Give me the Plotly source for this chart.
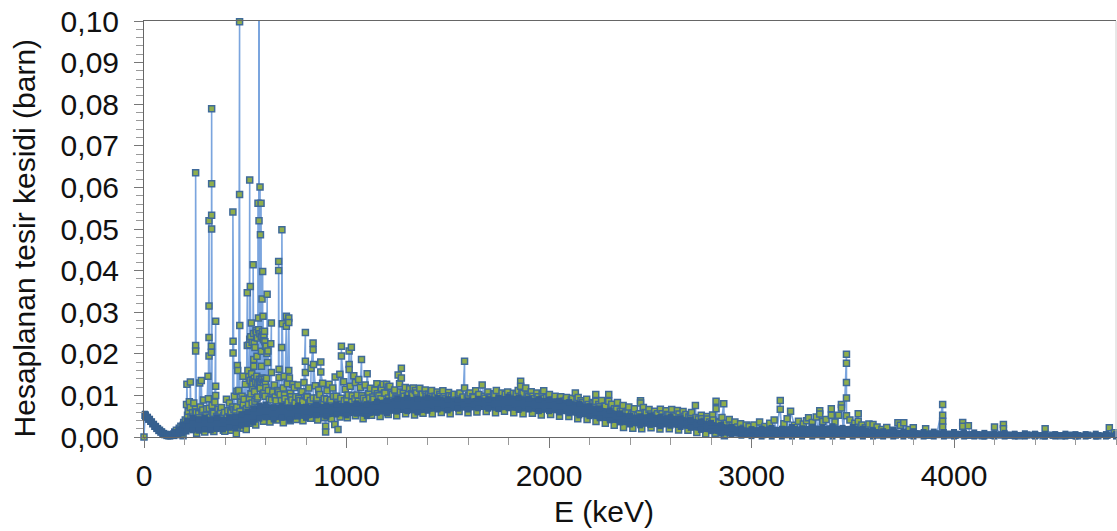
import numpy as np
import plotly.graph_objects as go

# Isolated peaks and stems (keV, barn)
peak_E = [0, 5, 193, 212, 229, 255, 255, 255, 255, 275, 283, 316, 321, 321, 321, 321,
          333, 333, 334, 334, 334, 334, 354, 354, 354, 399, 407, 439, 440, 440, 456, 459,
          461, 463, 472, 472, 473, 489, 505, 510, 510, 513, 522, 522, 525, 530, 535, 539,
          542, 542, 544, 555, 558, 563, 565, 568, 573, 575, 578, 580, 580, 583, 583, 586,
          588, 588, 590, 595, 600, 608, 610, 612, 626, 629, 629, 665, 665, 667, 667, 680,
          681, 683, 692, 703, 703, 715, 715, 715, 718, 735, 797, 797, 797, 825, 835, 835,
          837, 873, 873, 897, 897, 942, 944, 958, 967, 975, 975, 1013, 1013, 1013, 1024,
          1036, 1060, 1074, 1102, 1181, 1198, 1206, 1255, 1271, 1271, 1329]
peak_S = [0.0, 0.0052, 0.0003, 0.0127, 0.0132, 0.0635, 0.022, 0.0207, 0.006, 0.013, 0.0136,
          0.0146, 0.052, 0.0315, 0.0239, 0.0195, 0.0218, 0.0204, 0.0789, 0.0609, 0.0533, 0.05,
          0.0278, 0.0122, 0.01, 0.0014, 0.0091, 0.0541, 0.023, 0.0202, 0.0008, 0.011, 0.0172,
          0.016, 0.0998, 0.0583, 0.0268, 0.0146, 0.0018, 0.0347, 0.022, 0.016, 0.0618, 0.0235,
          0.0362, 0.0274, 0.0132, 0.0414, 0.0186, 0.017, 0.0225, 0.0251, 0.0194, 0.0562,
          0.0286, 0.052, 0.0601, 0.0486, 0.0562, 0.0206, 0.017, 0.0332, 0.0138, 0.0398, 0.029,
          0.024, 0.0234, 0.0254, 0.0218, 0.0343, 0.0179, 0.0207, 0.0224, 0.0274, 0.0155, 0.0422,
          0.04, 0.0163, 0.0143, 0.0215, 0.0498, 0.0272, 0.0146, 0.029, 0.0266, 0.0286, 0.0275,
          0.016, 0.0142, 0.0126, 0.0251, 0.0182, 0.0155, 0.0165, 0.0226, 0.021, 0.0174, 0.018,
          0.0156, 0.0026, 0.0012, 0.003, 0.0144, 0.0018, 0.0151, 0.0218, 0.0195, 0.0207, 0.0174,
          0.0162, 0.0216, 0.0147, 0.0138, 0.0186, 0.0152, 0.0127, 0.0127, 0.012, 0.0149, 0.0165,
          0.0142, 0.0118]
far_E = [1583, 1583, 1670, 1860, 1860, 1885, 1974, 2130, 2231, 2231, 2295, 2295, 2452, 2452,
         2723, 2825, 2825, 2863, 3142, 3142, 3193, 3282, 3337, 3337, 3394, 3394, 3444, 3444,
         3469, 3469, 3469, 3469, 3469, 3527, 3527, 3600, 3723, 3752, 3799, 3860, 3944, 3944,
         3944, 3944, 4043, 4043, 4071, 4200, 4244, 4244, 4450, 4767, 4792]
far_S = [0.0182, 0.0118, 0.0125, 0.0134, 0.0122, 0.0118, 0.0111, 0.0106, 0.0102, 0.0086,
         0.0102, 0.0086, 0.0087, 0.0082, 0.0076, 0.0086, 0.0068, 0.008, 0.0088, 0.0067, 0.0062,
         0.0046, 0.0063, 0.0055, 0.0068, 0.0052, 0.0078, 0.007, 0.0199, 0.0177, 0.0131, 0.0094,
         0.0051, 0.0056, 0.0038, 0.003, 0.0034, 0.0034, 0.0022, 0.002, 0.0078, 0.0052, 0.0038,
         0.0024, 0.0035, 0.0026, 0.0027, 0.0024, 0.003, 0.002, 0.002, 0.0022, 0.001]

# Crowded points around the band, estimated by eye
rim_low_E = [136, 146, 152, 160, 168, 174, 182, 188, 196, 204, 210, 218, 224, 232, 240, 246,
             254, 262, 270, 278, 286, 294, 302, 310, 318, 326, 336, 344, 350, 358, 366, 374,
             382, 390, 398, 406, 414, 422, 430, 438, 446, 452, 468, 478, 484, 494, 500, 516,
             528, 536, 548, 552, 562, 570, 592, 602, 618, 636, 644, 652, 660, 672, 688, 696,
             708, 722, 730, 742, 750, 760, 770, 780, 790, 806, 814, 822, 846, 854, 862, 882,
             890, 904, 914, 922, 932, 950, 986, 994, 1002, 1018, 1028, 1044, 1052, 1068, 1084,
             1092, 1110, 1118, 1130, 1140, 1150, 1160, 1172, 1190, 1214, 1226, 1238, 1248, 1262,
             1280, 1290, 1300, 1312, 1322, 1340, 1350, 1362, 1374, 1388, 1396]
rim_low_S = [0.0004, 0.0007, 0.0012, 0.0016, 0.0009, 0.0021, 0.0026, 0.0024, 0.0035, 0.0041,
             0.0078, 0.0062, 0.0085, 0.0048, 0.0058, 0.0082, 0.0067, 0.0045, 0.0056, 0.0072,
             0.0061, 0.0089, 0.0052, 0.0068, 0.0092, 0.0047, 0.0076, 0.0057, 0.0084, 0.0049,
             0.0066, 0.0054, 0.0071, 0.0046, 0.0059, 0.0043, 0.0063, 0.0082, 0.0061, 0.0072,
             0.0098, 0.0065, 0.0112, 0.0085, 0.0098, 0.0091, 0.0127, 0.0078, 0.0104, 0.0118,
             0.0086, 0.0132, 0.0096, 0.0124, 0.0106, 0.0119, 0.0091, 0.0108, 0.0125, 0.0087,
             0.0112, 0.0102, 0.0118, 0.0092, 0.0128, 0.0105, 0.0089, 0.0119, 0.0097, 0.0125,
             0.0088, 0.0109, 0.0131, 0.0096, 0.0118, 0.0088, 0.0123, 0.0094, 0.0113, 0.0129,
             0.0092, 0.0111, 0.0127, 0.0089, 0.0118, 0.0098, 0.0133, 0.0115, 0.0092, 0.0122,
             0.0099, 0.0131, 0.0101, 0.0119, 0.0093, 0.0125, 0.0104, 0.0117, 0.0096, 0.0113,
             0.0128, 0.0099, 0.0117, 0.0106, 0.0122, 0.0097, 0.0113, 0.0093, 0.0128, 0.0105,
             0.0119, 0.0099, 0.0116, 0.0104, 0.0112, 0.0094, 0.0117, 0.0103, 0.0113, 0.0098]
rim_mid_E = [1406, 1420, 1434, 1448, 1462, 1476, 1490, 1504, 1518, 1532, 1546, 1560, 1574, 1596,
             1610, 1624, 1638, 1652, 1684, 1698, 1712, 1726, 1740, 1754, 1768, 1782, 1796, 1810,
             1824, 1838, 1848, 1872, 1898, 1912, 1926, 1940, 1954, 1966, 1988, 2002, 2016, 2030,
             2044, 2058, 2072, 2086, 2100, 2116, 2144, 2158, 2172, 2186, 2200, 2214, 2246, 2260,
             2274, 2310, 2324, 2338, 2352, 2366, 2380, 2394, 2408, 2422, 2436, 2466, 2480, 2494,
             2508, 2522, 2536, 2550, 2564, 2578, 2592, 2606, 2620, 2634, 2648, 2662, 2676, 2690,
             2704, 2738, 2752, 2766, 2780, 2794, 2808, 2840, 2854, 2876, 2890, 2904, 2918, 2932,
             2946, 2960, 2974, 2988]
rim_mid_S = [0.0103, 0.0112, 0.0094, 0.0108, 0.0098, 0.0111, 0.0092, 0.0107, 0.0096, 0.0103,
             0.0088, 0.0106, 0.0094, 0.0092, 0.0106, 0.0097, 0.0111, 0.0099, 0.0093, 0.0108,
             0.0095, 0.0104, 0.0112, 0.0097, 0.0106, 0.0093, 0.0108, 0.0098, 0.0105, 0.0094,
             0.0112, 0.0105, 0.0097, 0.0109, 0.0092, 0.0106, 0.0088, 0.0103, 0.0095, 0.0102,
             0.0089, 0.0098, 0.0084, 0.0097, 0.0086, 0.0095, 0.0081, 0.0093, 0.0095, 0.0087,
             0.0075, 0.0091, 0.0072, 0.0083, 0.0078, 0.0088, 0.0074, 0.0079, 0.0068, 0.0083,
             0.0062, 0.0076, 0.0058, 0.0072, 0.0055, 0.0068, 0.0052, 0.0071, 0.0058, 0.0066,
             0.0049, 0.0062, 0.0056, 0.0067, 0.0048, 0.0063, 0.0053, 0.0066, 0.0051, 0.0064,
             0.0046, 0.0061, 0.0054, 0.0048, 0.0059, 0.0043, 0.0052, 0.0038, 0.0049, 0.0036,
             0.0053, 0.0034, 0.0047, 0.0033, 0.0042, 0.0027, 0.0036, 0.0024, 0.0032, 0.0021,
             0.0029, 0.0025]
rim_high_E = [3012, 3040, 3066, 3090, 3112, 3160, 3176, 3212, 3232, 3256, 3272, 3300, 3320, 3352,
              3368, 3412, 3430, 3486, 3510, 3545, 3562, 3580, 3620, 3644, 3668, 3698, 3735, 3778]
rim_high_S = [0.0029, 0.0036, 0.0025, 0.0033, 0.0041, 0.0032, 0.0044, 0.0028, 0.0038, 0.0031,
              0.0039, 0.0035, 0.0048, 0.0037, 0.0042, 0.0036, 0.0052, 0.0041, 0.0033, 0.0029,
              0.0022, 0.0031, 0.0024, 0.0018, 0.0023, 0.0016, 0.0028, 0.0018]

# Second cloud of points just above the band
cloud_E = [215, 228, 244, 258, 272, 290, 306, 322, 340, 362, 378, 394, 412, 428, 444, 458, 474, 490,
           506, 520, 534, 546, 558, 574, 586, 598, 614, 630, 648, 664, 678, 694, 712, 726, 746, 764,
           784, 802, 818, 836, 852, 868, 886, 902, 918, 936, 954, 972, 990, 1008, 1026, 1042, 1058,
           1076, 1096, 1114, 1134, 1152, 1170, 1188, 1208, 1226, 1244, 1266, 1284, 1306, 1326, 1346,
           1368, 1392, 1414, 1438, 1460, 1482, 1508, 1530, 1552, 1576, 1602, 1628, 1654, 1680, 1706,
           1732, 1758, 1784, 1812, 1838, 1866, 1892, 1920, 1946, 1974, 2000, 2028, 2056, 2082, 2110,
           2138, 2166, 2194, 2222, 2250, 2278, 2306, 2334, 2362, 2390, 2418, 2446, 2474, 2502, 2530,
           2558, 2586, 2614, 2642, 2670, 2698, 2726, 2754, 2782, 2810, 2838, 2866, 2894]
cloud_S = [0.0052, 0.0071, 0.0048, 0.0059, 0.0046, 0.0065, 0.0051, 0.0069, 0.0058, 0.0047, 0.0062,
           0.0051, 0.0046, 0.0058, 0.0066, 0.0072, 0.0061, 0.0079, 0.0068, 0.0094, 0.0082, 0.0109,
           0.0092, 0.0117, 0.0103, 0.0098, 0.0112, 0.0089, 0.0096, 0.0108, 0.0087, 0.0101, 0.0084,
           0.0097, 0.0082, 0.0093, 0.0085, 0.0098, 0.0081, 0.0094, 0.0086, 0.0102, 0.0083, 0.0091,
           0.0084, 0.0098, 0.0082, 0.0093, 0.0087, 0.0101, 0.0084, 0.0092, 0.0086, 0.0099, 0.0088,
           0.0094, 0.0091, 0.0104, 0.0092, 0.0106, 0.0094, 0.0102, 0.0096, 0.0108, 0.0098, 0.0104,
           0.0101, 0.0106, 0.0099, 0.0103, 0.0101, 0.0098, 0.0103, 0.0097, 0.0099, 0.0095, 0.0101,
           0.0096, 0.0099, 0.0095, 0.0102, 0.0098, 0.0096, 0.0102, 0.0097, 0.0103, 0.0099, 0.0104,
           0.0106, 0.0101, 0.0098, 0.0097, 0.0093, 0.0096, 0.0091, 0.0093, 0.0088, 0.0089, 0.0091,
           0.0083, 0.0078, 0.0081, 0.0073, 0.0074, 0.0069, 0.0067, 0.0064, 0.0062, 0.0058, 0.0056,
           0.0059, 0.0055, 0.0052, 0.0056, 0.0054, 0.0052, 0.0055, 0.005, 0.0052, 0.0047, 0.0044,
           0.0043, 0.0041, 0.0037, 0.0031, 0.0029]

# Points just below the band
under_E = [260, 300, 345, 392, 430, 462, 490, 520, 552, 590, 622, 655, 688, 722, 752, 785, 822, 858,
           892, 926, 968, 1004, 1044, 1082, 1124, 1166, 1206, 1248, 1292, 1336, 1378, 1424, 1468, 1512,
           1556, 1600, 1644, 1690, 1736, 1780, 1826, 1872, 1918, 1962, 2008, 2052, 2098, 2142, 2188,
           2232, 2278, 2322, 2368, 2414, 2458, 2504, 2548, 2594, 2640, 2686, 2730, 2774, 2820, 2866]
under_S = [0.0009, 0.0012, 0.0013, 0.0016, 0.0016, 0.0024, 0.0021, 0.0033, 0.0029, 0.0038, 0.0036,
           0.0041, 0.0034, 0.0039, 0.0042, 0.0039, 0.0045, 0.0041, 0.0046, 0.0044, 0.0048, 0.0046,
           0.0051, 0.0044, 0.0052, 0.0049, 0.0054, 0.0051, 0.0056, 0.0053, 0.0057, 0.0056, 0.0059,
           0.0056, 0.0061, 0.0058, 0.006, 0.0061, 0.0058, 0.0062, 0.0058, 0.0056, 0.0057, 0.0053,
           0.0054, 0.005, 0.0049, 0.0044, 0.0042, 0.0037, 0.0033, 0.0028, 0.0023, 0.0021, 0.002,
           0.0022, 0.0019, 0.002, 0.0017, 0.0016, 0.0011, 0.0007, 0.0009, 0.0003]

# Crowded zone of the tall peaks near 520 to 620 keV
blob_E = [518, 520, 524, 527, 532, 534, 538, 541, 545, 548, 551, 553, 557, 560, 562, 566, 570, 572,
          576, 579, 582, 585, 589, 592, 594, 597, 599, 603, 605, 607]
blob_S = [0.0145, 0.0222, 0.0136, 0.0241, 0.0152, 0.0228, 0.0128, 0.0249, 0.0141, 0.0215, 0.0132,
          0.0256, 0.0146, 0.0238, 0.0128, 0.0258, 0.0139, 0.0248, 0.0134, 0.0242, 0.0142, 0.0253,
          0.0131, 0.0246, 0.0138, 0.0229, 0.0132, 0.0218, 0.0141, 0.0201]

# Low points hidden in the far part of the band
base_E = [3025, 3055, 3080, 3125, 3150, 3185, 3220, 3245, 3290, 3330, 3380, 3420, 3455, 3500, 3535,
          3590, 3632, 3680, 3710, 3765, 3790, 3830, 3870, 3915, 3975, 4005, 4030, 4080, 4110, 4140,
          4170, 4195, 4235, 4280, 4320, 4360, 4400, 4440, 4490, 4530, 4570, 4610, 4660, 4710, 4755]
base_S = [0.0009, 0.0006, 0.0011, 0.0007, 0.0008, 0.0006, 0.001, 0.0007, 0.0009, 0.0006, 0.0008,
          0.0007, 0.001, 0.0008, 0.0006, 0.0007, 0.0005, 0.0006, 0.0005, 0.0007, 0.0005, 0.0006,
          0.0004, 0.0006, 0.0005, 0.0004, 0.0006, 0.0004, 0.0005, 0.0003, 0.0005, 0.0004, 0.0005,
          0.0004, 0.0003, 0.0005, 0.0004, 0.0003, 0.0004, 0.0003, 0.0004, 0.0003, 0.0004, 0.0003, 0.0004]

# Band of overlapping points (lower and upper limits)
band_E = [5, 10, 20, 30, 40, 50, 60, 70, 80, 90, 100, 110, 120, 130, 150, 170, 190, 210, 240, 270,
          300, 330, 360, 390, 420, 450, 480, 510, 540, 570, 600, 640, 680, 720, 760, 800, 850, 900,
          950, 1000, 1050, 1100, 1150, 1200, 1250, 1300, 1350, 1400, 1450, 1500, 1550, 1600, 1650,
          1700, 1750, 1800, 1850, 1900, 1950, 2000, 2050, 2100, 2150, 2200, 2250, 2300, 2350, 2400,
          2450, 2500, 2550, 2600, 2650, 2700, 2750, 2800, 2850, 2900, 2950, 3000, 3050, 3100, 3150,
          3200, 3250, 3300, 3350, 3400, 3450, 3500, 3550, 3600, 3650, 3700, 3750, 3800, 3850, 3900,
          3950, 4000, 4050, 4100, 4150, 4200, 4250, 4300, 4350, 4400, 4450, 4500, 4550, 4600, 4650,
          4700, 4750, 4800]
band_low = [0.0048, 0.0046, 0.0041, 0.0036, 0.003, 0.0024, 0.0019, 0.0014, 0.001, 0.0006, 0.0004,
            0.0002, 0.0001, 0.0001, 0.0002, 0.0004, 0.0008, 0.0013, 0.0016, 0.0015, 0.0018, 0.0016,
            0.0019, 0.0018, 0.0022, 0.0021, 0.0027, 0.0031, 0.0035, 0.0044, 0.0047, 0.0042, 0.0046,
            0.0041, 0.0049, 0.0046, 0.0052, 0.0049, 0.0054, 0.0052, 0.0056, 0.005, 0.0058, 0.0057,
            0.0061, 0.0062, 0.0059, 0.0063, 0.0066, 0.0064, 0.0068, 0.0066, 0.0069, 0.0068, 0.0067,
            0.0069, 0.0065, 0.0066, 0.0062, 0.0062, 0.0059, 0.0057, 0.0052, 0.005, 0.0045, 0.004,
            0.0035, 0.003, 0.0028, 0.0029, 0.0026, 0.0027, 0.0024, 0.0022, 0.0017, 0.0014, 0.0008,
            0.0005, 0.0003, 0.0002, 0.0001, 0.0001, 0.0001, 0.0001, 0.0001, 0.0001, 0.0001, 0.0001,
            0.0001, 0.0001, 0.0001, 0.0001, 0.0001, 0.0001, 0.0001, 0.0001, 0.0001, 0.0001, 0.0001,
            0.0001, 0.0001, 0.0001, 0.0001, 0.0001, 0.0001, 0.0001, 0.0001, 0.0001, 0.0001, 0.0001,
            0.0001, 0.0001, 0.0001, 0.0001, 0.0001, 0.0001]
band_high = [0.0056, 0.0054, 0.0049, 0.0044, 0.0038, 0.0032, 0.0027, 0.0022, 0.0018, 0.0014, 0.001,
             0.0008, 0.0006, 0.0007, 0.0012, 0.0018, 0.003, 0.0039, 0.0046, 0.0043, 0.0047, 0.0042,
             0.0046, 0.0041, 0.0047, 0.0049, 0.0055, 0.0061, 0.0068, 0.0076, 0.0078, 0.0072, 0.0076,
             0.0071, 0.0076, 0.0073, 0.0078, 0.0075, 0.0079, 0.0077, 0.0081, 0.0079, 0.0085, 0.0088,
             0.0092, 0.0094, 0.0092, 0.0095, 0.0094, 0.0091, 0.009, 0.0088, 0.0092, 0.0091, 0.0094,
             0.0097, 0.0095, 0.0092, 0.0091, 0.009, 0.0087, 0.0084, 0.008, 0.0074, 0.0069, 0.0063,
             0.0057, 0.0051, 0.005, 0.0052, 0.0048, 0.0049, 0.0045, 0.0042, 0.0037, 0.0034, 0.0029,
             0.0024, 0.002, 0.0019, 0.002, 0.0022, 0.002, 0.0024, 0.0021, 0.0025, 0.0023, 0.0026,
             0.0022, 0.0024, 0.002, 0.0016, 0.0014, 0.0016, 0.0013, 0.0014, 0.0012, 0.0013, 0.0012,
             0.0012, 0.001, 0.0011, 0.001, 0.0009, 0.001, 0.0008, 0.0009, 0.0008, 0.0008, 0.0007,
             0.0008, 0.0007, 0.0007, 0.0008, 0.0007, 0.0007]

clipped_E = [568, 568]
clipped_S = [0.04, 0.1]

x_ticks = [0, 1000, 2000, 3000, 4000]
y_ticks = [0, 0.01, 0.02, 0.03, 0.04, 0.05, 0.06, 0.07, 0.08, 0.09, 0.10]

E_all = np.array(peak_E + far_E + rim_low_E + rim_mid_E + rim_high_E + cloud_E + under_E + blob_E + base_E, dtype=float)
S_all = np.array(peak_S + far_S + rim_low_S + rim_mid_S + rim_high_S + cloud_S + under_S + blob_S + base_S, dtype=float)
order = np.argsort(E_all, kind="stable")

DARK = "#36608f"
fig = go.Figure()
fig.add_trace(go.Scatter(x=clipped_E, y=clipped_S, mode="lines",
                         line=dict(color="#7ba5de", width=2), hoverinfo="skip"))
fig.add_trace(go.Scatter(x=E_all[order], y=S_all[order], mode="lines+markers", cliponaxis=False,
                         line=dict(color="#7ba5de", width=1.6),
                         marker=dict(symbol="square", size=6, color="#8fae4c",
                                     line=dict(color="#3f6a9a", width=1.5))))
fig.add_trace(go.Scatter(x=band_E, y=band_low, mode="lines+markers", cliponaxis=False,
                         line=dict(color=DARK, width=3),
                         marker=dict(symbol="square", size=6, color=DARK)))
fig.add_trace(go.Scatter(x=band_E, y=band_high, mode="lines+markers", cliponaxis=False,
                         fill="tonexty", fillcolor=DARK,
                         line=dict(color=DARK, width=3),
                         marker=dict(symbol="square", size=6, color=DARK)))

FONT = "Liberation Sans"
fig.update_layout(
    width=1117, height=531, showlegend=False,
    margin=dict(l=144.4, r=0.6, t=21, b=93.7, autoexpand=False),
    paper_bgcolor="white", plot_bgcolor="white",
    separators=", ",
    font=dict(family=FONT, color="#111111"),
    xaxis=dict(range=[0, 4800], tickmode="array", tickvals=x_ticks, tickformat="d",
               ticks="outside", ticklen=10, tickwidth=1, tickcolor="#777777",
               showgrid=False, zeroline=False, showline=True, linecolor="#666666", linewidth=1,
               mirror=True, tickfont=dict(size=30, family=FONT), ticklabelstandoff=2,
               minor=dict(dtick=200, ticks="outside", ticklen=7, tickcolor="#999999", showgrid=False)),
    yaxis=dict(range=[0, 0.10], tickmode="array", tickvals=y_ticks, tickformat=".2f",
               ticks="outside", ticklen=9, tickwidth=1, tickcolor="#777777",
               showgrid=False, zeroline=False, showline=True, linecolor="#666666", linewidth=1,
               tickfont=dict(size=30, family=FONT), ticklabelstandoff=9,
               minor=dict(dtick=0.002, ticks="outside", ticklen=7, tickcolor="#999999", showgrid=False)),
    annotations=[
        dict(text="E (keV)", xref="paper", yref="paper", x=(604 - 144.4) / 972, y=(437.3 - 512) / 416.3,
             showarrow=False, font=dict(size=30, family=FONT, color="#111111"),
             xanchor="center", yanchor="middle"),
        dict(text="Hesaplanan tesir kesidi (barn)", xref="paper", yref="paper",
             x=(25 - 144.4) / 972, y=(437.3 - 238) / 416.3, textangle=-90,
             showarrow=False, font=dict(size=30, family=FONT, color="#111111"),
             xanchor="center", yanchor="middle"),
    ],
    shapes=[dict(type="line", xref="paper", yref="paper", x0=1, x1=1, y0=0, y1=1,
                 line=dict(color="#d0d0d0", width=1))],
)
fig.write_html("out.html", config={"displayModeBar": False},
               post_script='document.body.style.margin="0";document.body.style.overflow="hidden";')
